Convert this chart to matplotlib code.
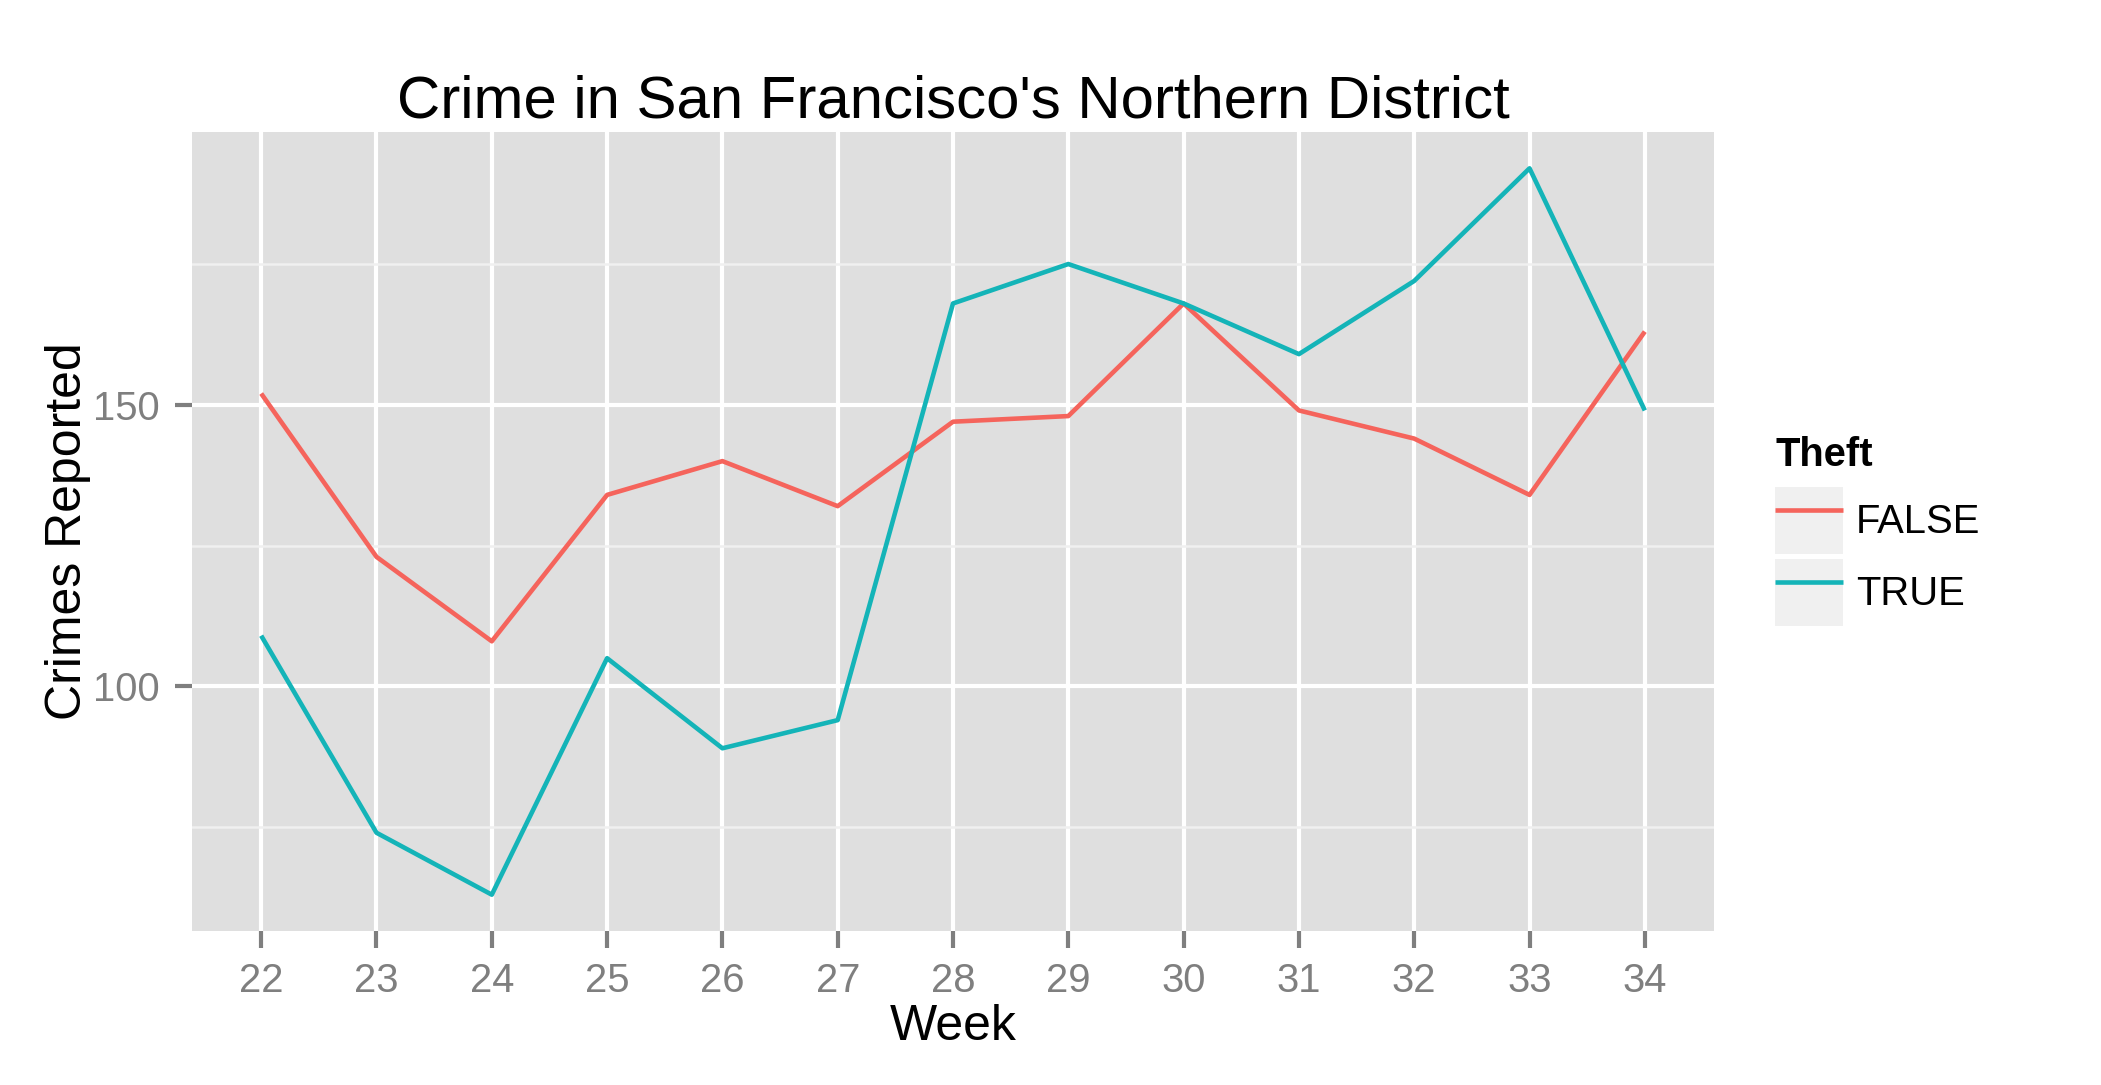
import matplotlib
matplotlib.use("Agg")
import matplotlib.pyplot as plt
from matplotlib.legend_handler import HandlerLine2D
from matplotlib.lines import Line2D
from matplotlib.patches import Rectangle

plt.rcParams['font.family'] = ['Liberation Sans', 'DejaVu Sans']

# data
weeks = [22, 23, 24, 25, 26, 27, 28, 29, 30, 31, 32, 33, 34]
theft_false = [152, 123, 108, 134, 140, 132, 147, 148, 168, 149, 144, 134, 163]
theft_true = [109, 74, 63, 105, 89, 94, 168, 175, 168, 159, 172, 192, 149]
y_major = [100, 150]
y_minor = [75, 125, 175]

RED = '#F5645C'
TEAL = '#14B4B8'
GREY50 = '#7F7F7F'


class KeyHandler(HandlerLine2D):
    """ggplot-like legend key: grey box behind a shorter, centred line."""
    def create_artists(self, legend, orig_handle, xdescent, ydescent,
                       width, height, fontsize, trans):
        bg = Rectangle((-xdescent, -ydescent), width, height,
                       facecolor='#F0F0F0', edgecolor='none', transform=trans)
        artists = super().create_artists(legend, orig_handle, xdescent, ydescent,
                                         width, height, fontsize, trans)
        inset = 0.07 * width
        ymid = height / 2 - ydescent
        for a in artists:
            xd = list(a.get_xdata())
            if len(xd) == 2:
                a.set_data([xd[0] + inset, xd[1] - inset], [ymid, ymid])
        return [bg] + artists


W, H = 2101, 1085
fig = plt.figure(figsize=(W / 300, H / 300), dpi=300)
ax = fig.add_axes([192 / W, 1 - 931 / H, (1714 - 192) / W, (931 - 132) / H])
ax.set_facecolor('#DFDFDF')
for s in ax.spines.values():
    s.set_visible(False)

ax.plot(weeks, theft_false, color=RED, lw=1.1, label='FALSE', solid_capstyle='butt')
ax.plot(weeks, theft_true, color=TEAL, lw=1.1, label='TRUE', solid_capstyle='butt')

# ggplot-style 5% expansion of the data range
lo = min(theft_false + theft_true)
hi = max(theft_false + theft_true)
ex = (hi - lo) * 0.05
ax.set_ylim(lo - ex, hi + ex)
xe = (weeks[-1] - weeks[0]) * 0.05
ax.set_xlim(weeks[0] - xe, weeks[-1] + xe)

ax.set_xticks(weeks)
ax.set_yticks(y_major)
ax.set_yticks(y_minor, minor=True)
ax.grid(which='major', color='white', lw=1.0)
ax.grid(which='minor', axis='y', color='#F0F0F0', lw=0.6)
ax.set_axisbelow(True)
ax.tick_params(which='major', length=4.1, width=1.0, color=GREY50,
               labelcolor=GREY50, labelsize=9.6)
ax.tick_params(axis='x', pad=3.4)
ax.tick_params(axis='y', pad=3.6)
ax.tick_params(which='minor', length=0)

ax.set_xlabel('Week', fontsize=12, labelpad=1)
ax.set_ylabel('Crimes Reported', fontsize=12, labelpad=0.6)
ax.set_title("Crime in San Francisco's Northern District", fontsize=14.4, pad=3.6)

leg = ax.legend(title='Theft', loc='upper left',
                bbox_to_anchor=(1775 / W, 1 - 436 / H), bbox_transform=fig.transFigure,
                frameon=False, fontsize=9.6, borderpad=0, borderaxespad=0,
                handlelength=1.7, handleheight=2.2, handletextpad=0.33,
                labelspacing=0.125, alignment='left',
                handler_map={Line2D: KeyHandler()})
leg.get_title().set_fontweight('bold')
leg.get_title().set_fontsize(9.6)
# a bit more room between the title and the keys, like ggplot
leg._legend_box.sep = 3.1

fig.savefig('out.png', dpi=300, facecolor='white')
